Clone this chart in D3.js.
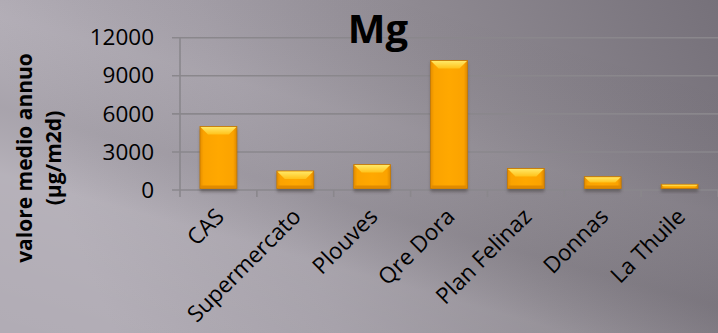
<!DOCTYPE html>
<html>
<head>
<meta charset="utf-8">
<script src="https://cdnjs.cloudflare.com/ajax/libs/d3/7.8.5/d3.min.js"></script>
<style>
	html, body { margin: 0; padding: 0; overflow: hidden; }
	#chart { width: 718px; height: 333px; }
	text { font-family: 'Open Sans', sans-serif; }
</style>
</head>
<body>
<div id="chart"></div>
<script>
'use strict'

var CATEGORIES = ['CAS', 'Supermercato', 'Plouves', 'Qre Dora', 'Plan Felinaz', 'Donnas', 'La Thuile'];
var VALUES = [5000, 1500, 2000, 10200, 1700, 1050, 450];
var Y_TICKS = [0, 3000, 6000, 9000, 12000];
var TITLE = 'Mg';
var Y_TITLE = ['valore medio annuo', '(µg/m2d)'];

var app = {
	init: function() {
		this.dimensions = { width: 718, height: 333 };
		this.padding = { top: 37.7, right: 0, bottom: 143, left: 180 };

		var svg = d3.select('#chart')
			.append('svg')
			.attr('width', app.dimensions.width)
			.attr('height', app.dimensions.height);

		app.svg = svg;
		app.defs = svg.append('defs');
		app.drawBackground();
		app.draw();
	},

	drawBackground: function() {
		var bg = app.defs.append('linearGradient')
			.attr('id', 'bg-grad')
			.attr('x1', '0').attr('y1', '0.2')
			.attr('x2', '1').attr('y2', '0');
		[['0', '#b1acb5'], ['0.3', '#a39ea7'], ['0.6', '#8e8991'], ['1', '#76717a']].forEach(function(s) {
			bg.append('stop').attr('offset', s[0]).attr('stop-color', s[1]);
		});

		// faint diagonal streaks like the slide texture
		var streak = app.defs.append('linearGradient')
			.attr('id', 'streak-grad')
			.attr('x1', '0').attr('y1', '1')
			.attr('x2', '0.6').attr('y2', '0');
		[['0', '#ffffff', 0], ['0.35', '#ffffff', 0.07], ['0.5', '#000000', 0.05], ['0.7', '#ffffff', 0.04], ['1', '#000000', 0]].forEach(function(s) {
			streak.append('stop').attr('offset', s[0]).attr('stop-color', s[1]).attr('stop-opacity', s[2]);
		});

		app.svg.append('rect')
			.attr('width', app.dimensions.width)
			.attr('height', app.dimensions.height)
			.attr('fill', 'url(#bg-grad)');

		app.svg.append('rect')
			.attr('width', app.dimensions.width)
			.attr('height', app.dimensions.height)
			.attr('fill', 'url(#streak-grad)');
	},

	draw: function() {
		var svg = app.svg;
		var left = app.padding.left;
		var right = app.dimensions.width - app.padding.right;
		var bottom = app.dimensions.height - app.padding.bottom;

		var x = d3.scaleBand()
			.domain(CATEGORIES)
			.range([left, right])
			.padding(0);

		var y = d3.scaleLinear()
			.domain([0, 12000])
			.range([bottom, app.padding.top]);

		var gridColor = '#8a878c';

		// gridlines (with the small outside tick)
		svg.append('g')
			.attr('id', 'grid')
			.selectAll('line')
			.data(Y_TICKS)
			.enter()
			.append('line')
			.attr('x1', left - 8)
			.attr('x2', right)
			.attr('y1', function(d) { return y(d); })
			.attr('y2', function(d) { return y(d); })
			.attr('stroke', gridColor)
			.attr('stroke-width', 1.6);

		// y axis line
		svg.append('line')
			.attr('x1', left).attr('x2', left)
			.attr('y1', y(12000)).attr('y2', bottom + 7)
			.attr('stroke', gridColor)
			.attr('stroke-width', 1.6);

		// x ticks between categories
		svg.append('g')
			.attr('id', 'x-ticks')
			.selectAll('line')
			.data(CATEGORIES.slice(1).concat(['__end']))
			.enter()
			.append('line')
			.attr('x1', function(d) { return d === '__end' ? right : x(d); })
			.attr('x2', function(d) { return d === '__end' ? right : x(d); })
			.attr('y1', bottom)
			.attr('y2', bottom + 7)
			.attr('stroke', gridColor)
			.attr('stroke-width', 1.6);

		var yAxis = d3.axisLeft(y)
			.tickValues(Y_TICKS)
			.tickFormat(d3.format('d'))
			.tickSize(0)
			.tickPadding(26);

		svg.append('g')
			.attr('id', 'y-axis')
			.attr('transform', 'translate(' + left + ', 0)')
			.call(yAxis)
			.call(function(g) { g.select('.domain').remove(); })
			.selectAll('text')
			.attr('font-size', 22.5)
			.attr('fill', '#000')
			.style('font-family', "'Open Sans', sans-serif");

		var xAxis = d3.axisBottom(x).tickSize(0);

		svg.append('g')
			.attr('id', 'x-axis')
			.attr('transform', 'translate(0, ' + bottom + ')')
			.call(xAxis)
			.call(function(g) { g.select('.domain').remove(); })
			.selectAll('text')
			.attr('x', 0)
			.attr('y', 0)
			.attr('dy', 0)
			.attr('transform', 'translate(7, 28) rotate(-45)')
			.attr('text-anchor', 'end')
			.attr('font-size', 22.5)
			.attr('fill', '#000')
			.style('font-family', "'Open Sans', sans-serif");

		app.drawBars(x, y, bottom);

		svg.append('text')
			.attr('x', 378)
			.attr('y', 43)
			.attr('text-anchor', 'middle')
			.attr('font-size', 40)
			.attr('font-weight', 'bold')
			.attr('fill', '#000')
			.text(TITLE);

		svg.append('g')
			.attr('transform', 'translate(0, 158) rotate(-90)')
			.selectAll('text')
			.data(Y_TITLE)
			.enter()
			.append('text')
			.attr('x', 0)
			.attr('y', function(d, i) { return 32 + i * 29; })
			.attr('text-anchor', 'middle')
			.attr('font-size', 21)
			.attr('font-weight', 'bold')
			.attr('fill', '#000')
			.text(function(d) { return d; });
	},

	drawBars: function(x, y, bottom) {
		var defs = app.defs;

		var face = defs.append('linearGradient').attr('id', 'bar-face')
			.attr('x1', '0').attr('x2', '1').attr('y1', '0').attr('y2', '0');
		[['0', '#e58e00'], ['0.1', '#fba300'], ['0.5', '#ffa800'], ['0.9', '#fba300'], ['1', '#dd8800']].forEach(function(s) {
			face.append('stop').attr('offset', s[0]).attr('stop-color', s[1]);
		});

		var top = defs.append('linearGradient').attr('id', 'bar-top')
			.attr('x1', '0').attr('x2', '0').attr('y1', '0').attr('y2', '1');
		[['0', '#ffe866'], ['1', '#ffc21a']].forEach(function(s) {
			top.append('stop').attr('offset', s[0]).attr('stop-color', s[1]);
		});

		defs.append('filter').attr('id', 'bar-shadow')
			.attr('x', '-20%').attr('y', '-20%').attr('width', '140%').attr('height', '140%')
			.append('feGaussianBlur').attr('stdDeviation', 1.5);

		var barW = x.bandwidth() * 0.48;

		var bars = app.svg.append('g')
			.attr('id', 'bars')
			.selectAll('g')
			.data(VALUES)
			.enter()
			.append('g')
			.attr('transform', function(d, i) {
				return 'translate(' + (x(CATEGORIES[i]) + (x.bandwidth() - barW) / 2) + ', 0)';
			});

		bars.append('rect')
			.attr('x', 0)
			.attr('y', function(d) { return y(d) + 2; })
			.attr('width', barW)
			.attr('height', function(d) { return bottom - y(d); })
			.attr('fill', '#3a3636')
			.attr('opacity', 0.45)
			.attr('filter', 'url(#bar-shadow)');

		bars.append('rect')
			.attr('x', 0)
			.attr('y', function(d) { return y(d); })
			.attr('width', barW)
			.attr('height', function(d) { return bottom - 1.5 - y(d); })
			.attr('fill', 'url(#bar-face)')
			.attr('stroke', '#c77a00')
			.attr('stroke-width', 0.8);

		bars.append('path')
			.attr('d', function(d) {
				var t = y(d);
				var h = bottom - 1.5 - t;
				var b = Math.min(8, h / 2);
				return 'M0.5,' + (t + 0.5) + 'L' + (barW - 0.5) + ',' + (t + 0.5) +
					'L' + (barW - b) + ',' + (t + b) + 'L' + b + ',' + (t + b) + 'Z';
			})
			.attr('fill', 'url(#bar-top)');

		bars.append('rect')
			.attr('x', 1)
			.attr('y', function(d) { return bottom - 4.5; })
			.attr('width', barW - 2)
			.attr('height', function(d) { return bottom - y(d) > 8 ? 3 : 0; })
			.attr('fill', '#e08a00');
	}
};

app.init();
</script>
</body>
</html>
